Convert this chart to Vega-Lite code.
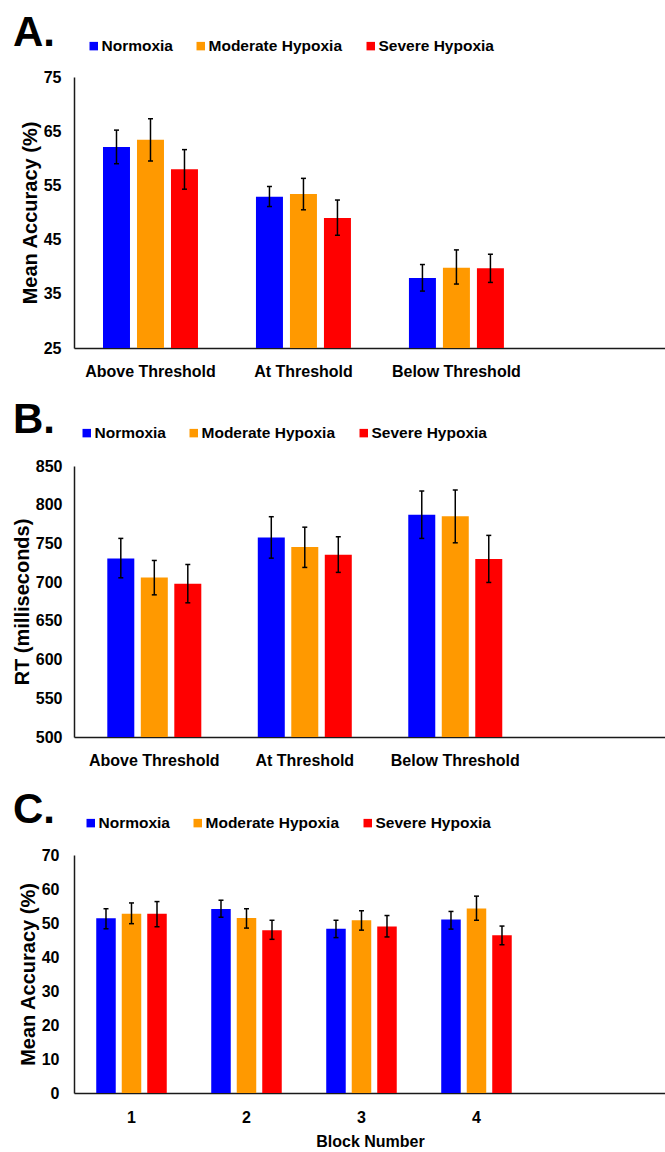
{
  "$schema": "https://vega.github.io/schema/vega-lite/v6.json",
  "padding": {"left": 12, "top": 12, "right": 0, "bottom": 0},
  "spacing": 118,
  "bounds": "flush",
  "background": "#ffffff",
  "config": {
    "font": "Liberation Sans",
    "view": {"stroke": null},
    "axis": {"grid": false, "ticks": false, "tickSize": 0, "domainColor": "#1a1a1a", "domainWidth": 1.5, "labelFont": "Liberation Sans", "labelFontSize": 16, "labelFontWeight": "bold", "labelColor": "#000000", "titleFont": "Liberation Sans", "titleFontWeight": "bold", "titleColor": "#000000"},
    "axisX": {"labelAngle": 0, "labelPadding": 15},
    "axisY": {"titleFontSize": 20, "labelPadding": 13, "titlePadding": 3},
    "legend": {"title": null, "orient": "none", "direction": "horizontal", "symbolType": "square", "symbolSize": 72, "symbolStrokeWidth": 0, "symbolOpacity": 1, "labelFont": "Liberation Sans", "labelFontSize": 15.5, "labelFontWeight": "bold", "labelColor": "#000000", "labelOffset": 0, "columnPadding": 20, "padding": 0, "labelLimit": 300},
    "title": {"fontSize": 42, "fontWeight": "bold", "anchor": "start", "frame": "group", "dx": -61, "dy": 21, "color": "#000000", "baseline": "alphabetic", "offset": 0, "font": "Liberation Sans"}
  },
  "resolve": {"scale": {"x": "independent", "y": "independent", "color": "independent", "xOffset": "independent"}, "legend": {"color": "independent"}, "axis": {"x": "independent", "y": "independent"}},
  "vconcat": [
    {
      "width": 592,
      "height": 271,
      "title": {"text": "A."},
      "data": {"values": [
        {"cond": "Above Threshold", "group": "Normoxia", "mean": 62.1, "lo": 59.0, "hi": 65.2},
        {"cond": "Above Threshold", "group": "Moderate Hypoxia", "mean": 63.4, "lo": 59.5, "hi": 67.3},
        {"cond": "Above Threshold", "group": "Severe Hypoxia", "mean": 58.0, "lo": 54.3, "hi": 61.6},
        {"cond": "At Threshold", "group": "Normoxia", "mean": 52.9, "lo": 51.1, "hi": 54.8},
        {"cond": "At Threshold", "group": "Moderate Hypoxia", "mean": 53.4, "lo": 50.5, "hi": 56.3},
        {"cond": "At Threshold", "group": "Severe Hypoxia", "mean": 49.0, "lo": 45.8, "hi": 52.3},
        {"cond": "Below Threshold", "group": "Normoxia", "mean": 37.9, "lo": 35.5, "hi": 40.4},
        {"cond": "Below Threshold", "group": "Moderate Hypoxia", "mean": 39.8, "lo": 36.8, "hi": 43.1},
        {"cond": "Below Threshold", "group": "Severe Hypoxia", "mean": 39.7, "lo": 37.1, "hi": 42.3}
      ]},
      "encoding": {
        "x": {"field": "cond", "type": "nominal", "sort": ["Above Threshold", "At Threshold", "Below Threshold"], "scale": {"paddingInner": 0, "paddingOuter": 0.435, "align": 0}, "axis": {"title": null}},
        "xOffset": {"field": "group", "type": "nominal", "sort": ["Normoxia", "Moderate Hypoxia", "Severe Hypoxia"], "scale": {"paddingInner": 0.206, "paddingOuter": 0.853}}
      },
      "layer": [
        {"mark": {"type": "bar", "clip": true}, "encoding": {
          "y": {"field": "mean", "type": "quantitative", "scale": {"domain": [25, 75], "nice": false, "zero": false}, "axis": {"title": "Mean Accuracy (%)", "values": [25, 35, 45, 55, 65, 75]}},
          "color": {"field": "group", "type": "nominal", "sort": ["Normoxia", "Moderate Hypoxia", "Severe Hypoxia"], "scale": {"domain": ["Normoxia", "Moderate Hypoxia", "Severe Hypoxia"], "range": ["#0000ff", "#ff9900", "#ff0000"]}, "legend": {"legendX": 12, "legendY": -39}}
        }},
        {"mark": {"type": "rule", "color": "#000000", "strokeWidth": 1.5}, "encoding": {
          "y": {"field": "lo", "type": "quantitative", "scale": {"domain": [25, 75], "nice": false, "zero": false}, "axis": {"title": "Mean Accuracy (%)", "values": [25, 35, 45, 55, 65, 75]}},
          "y2": {"field": "hi"}
        }},
        {"mark": {"type": "tick", "color": "#000000", "thickness": 1.5, "size": 5, "opacity": 1}, "encoding": {
          "y": {"field": "lo", "type": "quantitative", "scale": {"domain": [25, 75], "nice": false, "zero": false}, "axis": {"title": "Mean Accuracy (%)", "values": [25, 35, 45, 55, 65, 75]}}
        }},
        {"mark": {"type": "tick", "color": "#000000", "thickness": 1.5, "size": 5, "opacity": 1}, "encoding": {
          "y": {"field": "hi", "type": "quantitative", "scale": {"domain": [25, 75], "nice": false, "zero": false}, "axis": {"title": "Mean Accuracy (%)", "values": [25, 35, 45, 55, 65, 75]}}
        }}
      ]
    },
    {
      "width": 592,
      "height": 271,
      "title": {"text": "B."},
      "data": {"values": [
        {"cond": "Above Threshold", "group": "Normoxia", "mean": 730.6, "lo": 705.6, "hi": 756.5},
        {"cond": "Above Threshold", "group": "Moderate Hypoxia", "mean": 706, "lo": 683.6, "hi": 728},
        {"cond": "Above Threshold", "group": "Severe Hypoxia", "mean": 697.8, "lo": 673.3, "hi": 722.8},
        {"cond": "At Threshold", "group": "Normoxia", "mean": 757.8, "lo": 731, "hi": 784.5},
        {"cond": "At Threshold", "group": "Moderate Hypoxia", "mean": 745.3, "lo": 719, "hi": 771},
        {"cond": "At Threshold", "group": "Severe Hypoxia", "mean": 735.3, "lo": 712.6, "hi": 758.6},
        {"cond": "Below Threshold", "group": "Normoxia", "mean": 787, "lo": 756.5, "hi": 817.7},
        {"cond": "Below Threshold", "group": "Moderate Hypoxia", "mean": 785, "lo": 750.8, "hi": 819},
        {"cond": "Below Threshold", "group": "Severe Hypoxia", "mean": 729.8, "lo": 699.6, "hi": 760.4}
      ]},
      "encoding": {
        "x": {"field": "cond", "type": "nominal", "sort": ["Above Threshold", "At Threshold", "Below Threshold"], "scale": {"paddingInner": 0, "paddingOuter": 0.467, "align": 0.036}, "axis": {"title": null}},
        "xOffset": {"field": "group", "type": "nominal", "sort": ["Normoxia", "Moderate Hypoxia", "Severe Hypoxia"], "scale": {"paddingInner": 0.194, "paddingOuter": 0.843}}
      },
      "layer": [
        {"mark": {"type": "bar", "clip": true}, "encoding": {
          "y": {"field": "mean", "type": "quantitative", "scale": {"domain": [500, 850], "nice": false, "zero": false}, "axis": {"title": "RT (milliseconds)", "values": [500, 550, 600, 650, 700, 750, 800, 850], "labelPadding": 12}},
          "color": {"field": "group", "type": "nominal", "sort": ["Normoxia", "Moderate Hypoxia", "Severe Hypoxia"], "scale": {"domain": ["Normoxia", "Moderate Hypoxia", "Severe Hypoxia"], "range": ["#0000ff", "#ff9900", "#ff0000"]}, "legend": {"legendX": 5, "legendY": -41}}
        }},
        {"mark": {"type": "rule", "color": "#000000", "strokeWidth": 1.5}, "encoding": {
          "y": {"field": "lo", "type": "quantitative", "scale": {"domain": [500, 850], "nice": false, "zero": false}, "axis": {"title": "RT (milliseconds)", "values": [500, 550, 600, 650, 700, 750, 800, 850], "labelPadding": 12}},
          "y2": {"field": "hi"}
        }},
        {"mark": {"type": "tick", "color": "#000000", "thickness": 1.5, "size": 5, "opacity": 1}, "encoding": {
          "y": {"field": "lo", "type": "quantitative", "scale": {"domain": [500, 850], "nice": false, "zero": false}, "axis": {"title": "RT (milliseconds)", "values": [500, 550, 600, 650, 700, 750, 800, 850], "labelPadding": 12}}
        }},
        {"mark": {"type": "tick", "color": "#000000", "thickness": 1.5, "size": 5, "opacity": 1}, "encoding": {
          "y": {"field": "hi", "type": "quantitative", "scale": {"domain": [500, 850], "nice": false, "zero": false}, "axis": {"title": "RT (milliseconds)", "values": [500, 550, 600, 650, 700, 750, 800, 850], "labelPadding": 12}}
        }}
      ]
    },
    {
      "width": 592,
      "height": 238,
      "title": {"text": "C."},
      "data": {"values": [
        {"block": "1", "group": "Normoxia", "mean": 51.4, "lo": 48.3, "hi": 54.2},
        {"block": "1", "group": "Moderate Hypoxia", "mean": 52.7, "lo": 49.8, "hi": 55.9},
        {"block": "1", "group": "Severe Hypoxia", "mean": 52.7, "lo": 48.9, "hi": 56.3},
        {"block": "2", "group": "Normoxia", "mean": 54.1, "lo": 51.7, "hi": 56.7},
        {"block": "2", "group": "Moderate Hypoxia", "mean": 51.5, "lo": 48.5, "hi": 54.2},
        {"block": "2", "group": "Severe Hypoxia", "mean": 47.9, "lo": 45.2, "hi": 50.8},
        {"block": "3", "group": "Normoxia", "mean": 48.3, "lo": 45.7, "hi": 50.8},
        {"block": "3", "group": "Moderate Hypoxia", "mean": 50.8, "lo": 47.9, "hi": 53.6},
        {"block": "3", "group": "Severe Hypoxia", "mean": 49.0, "lo": 45.9, "hi": 52.2},
        {"block": "4", "group": "Normoxia", "mean": 51.0, "lo": 48.2, "hi": 53.4},
        {"block": "4", "group": "Moderate Hypoxia", "mean": 54.3, "lo": 50.8, "hi": 57.9},
        {"block": "4", "group": "Severe Hypoxia", "mean": 46.4, "lo": 43.6, "hi": 49.1}
      ]},
      "encoding": {
        "x": {"field": "block", "type": "nominal", "sort": ["1", "2", "3", "4"], "scale": {"paddingInner": 0, "paddingOuter": 0.574, "align": 0}, "axis": {"title": "Block Number", "titleFontSize": 16, "titlePadding": 8, "labelPadding": 16}},
        "xOffset": {"field": "group", "type": "nominal", "sort": ["Normoxia", "Moderate Hypoxia", "Severe Hypoxia"], "scale": {"paddingInner": 0.235, "paddingOuter": 0.872}}
      },
      "layer": [
        {"mark": {"type": "bar", "clip": true}, "encoding": {
          "y": {"field": "mean", "type": "quantitative", "scale": {"domain": [0, 70], "nice": false}, "axis": {"title": "Mean Accuracy (%)", "values": [0, 10, 20, 30, 40, 50, 60, 70], "labelPadding": 15}},
          "color": {"field": "group", "type": "nominal", "sort": ["Normoxia", "Moderate Hypoxia", "Severe Hypoxia"], "scale": {"domain": ["Normoxia", "Moderate Hypoxia", "Severe Hypoxia"], "range": ["#0000ff", "#ff9900", "#ff0000"]}, "legend": {"legendX": 9, "legendY": -40}}
        }},
        {"mark": {"type": "rule", "color": "#000000", "strokeWidth": 1.5}, "encoding": {
          "y": {"field": "lo", "type": "quantitative", "scale": {"domain": [0, 70], "nice": false}, "axis": {"title": "Mean Accuracy (%)", "values": [0, 10, 20, 30, 40, 50, 60, 70], "labelPadding": 15}},
          "y2": {"field": "hi"}
        }},
        {"mark": {"type": "tick", "color": "#000000", "thickness": 1.5, "size": 5, "opacity": 1}, "encoding": {
          "y": {"field": "lo", "type": "quantitative", "scale": {"domain": [0, 70], "nice": false}, "axis": {"title": "Mean Accuracy (%)", "values": [0, 10, 20, 30, 40, 50, 60, 70], "labelPadding": 15}}
        }},
        {"mark": {"type": "tick", "color": "#000000", "thickness": 1.5, "size": 5, "opacity": 1}, "encoding": {
          "y": {"field": "hi", "type": "quantitative", "scale": {"domain": [0, 70], "nice": false}, "axis": {"title": "Mean Accuracy (%)", "values": [0, 10, 20, 30, 40, 50, 60, 70], "labelPadding": 15}}
        }}
      ]
    }
  ]
}
